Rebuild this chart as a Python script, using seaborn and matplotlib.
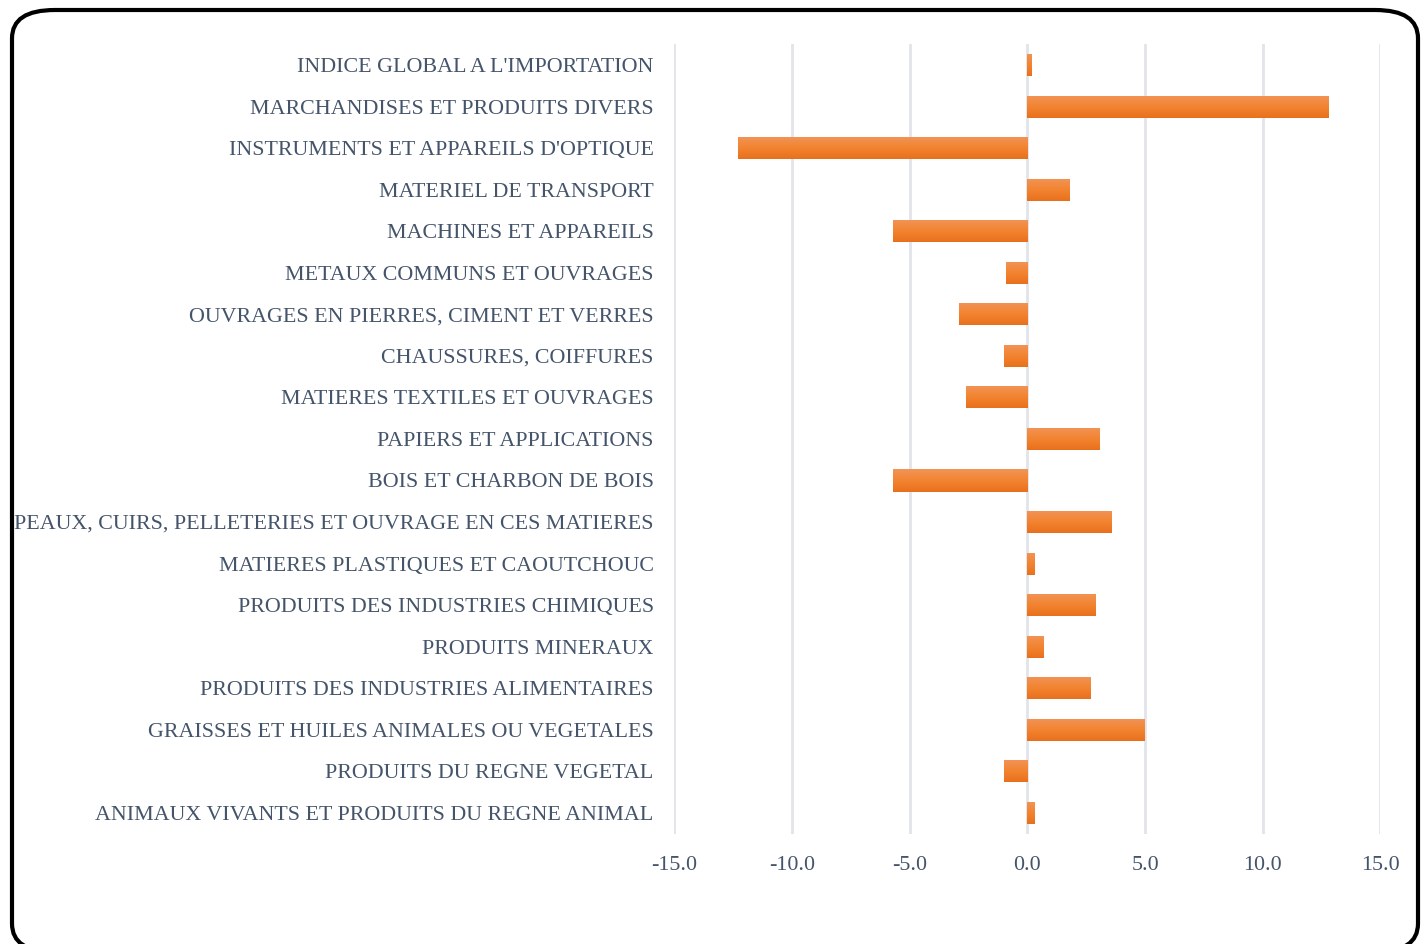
import numpy as np
import pandas as pd
import seaborn as sns
import matplotlib.pyplot as plt
from matplotlib.patches import FancyBboxPatch
from matplotlib.colors import LinearSegmentedColormap

# categories, top to bottom
categories = [
    "INDICE GLOBAL A L'IMPORTATION",
    "MARCHANDISES ET PRODUITS DIVERS",
    "INSTRUMENTS ET APPAREILS D'OPTIQUE",
    "MATERIEL DE TRANSPORT",
    "MACHINES ET APPAREILS",
    "METAUX COMMUNS ET OUVRAGES",
    "OUVRAGES EN PIERRES, CIMENT ET VERRES",
    "CHAUSSURES, COIFFURES",
    "MATIERES TEXTILES ET OUVRAGES",
    "PAPIERS ET APPLICATIONS",
    "BOIS ET CHARBON DE BOIS",
    "PEAUX, CUIRS, PELLETERIES ET OUVRAGE EN CES MATIERES",
    "MATIERES PLASTIQUES ET CAOUTCHOUC",
    "PRODUITS DES INDUSTRIES CHIMIQUES",
    "PRODUITS MINERAUX",
    "PRODUITS DES INDUSTRIES ALIMENTAIRES",
    "GRAISSES ET HUILES ANIMALES OU VEGETALES",
    "PRODUITS DU REGNE VEGETAL",
    "ANIMAUX VIVANTS ET PRODUITS DU REGNE ANIMAL",
]
values = [0.2, 12.8, -12.3, 1.8, -5.7, -0.9, -2.9, -1.0, -2.6, 3.1,
          -5.7, 3.6, 0.3, 2.9, 0.7, 2.7, 5.0, -1.0, 0.3]
xticks = [-15, -10, -5, 0, 5, 10, 15]

df = pd.DataFrame({"categorie": categories, "variation": values})

sns.set_style("white")
plt.rcParams['font.family'] = ['Liberation Serif', 'DejaVu Serif']
text_color = "#44546A"

fig = plt.figure(figsize=(14.26, 9.44), dpi=100)
ax = fig.add_axes([0.473, 0.117, 0.495, 0.836])

sns.barplot(data=df, y="categorie", x="variation", orient="h",
            color="#F07F2D", width=0.53, ax=ax, zorder=3)

# gradient fill on each bar (light top, darker bottom)
grad = LinearSegmentedColormap.from_list("og", ["#F19458", "#F38430", "#E8701D"])
gimg = np.linspace(0, 1, 64).reshape(-1, 1)
for p in ax.patches:
    x0, y0 = p.get_x(), p.get_y()
    w, h = p.get_width(), p.get_height()
    xa, xb = sorted([x0, x0 + w])
    ya, yb = sorted([y0, y0 + h])
    im = ax.imshow(gimg, cmap=grad, aspect="auto", extent=(xa, xb, yb, ya),
                   origin="upper", zorder=3)
    im.set_clip_path(p)
    p.set_facecolor("none")
    p.set_edgecolor("none")

ax.set_xlim(-15, 15)
ax.set_ylim(18.5, -0.5)
ax.set_xticks(xticks)
ax.set_xticklabels([f"{t:.1f}" for t in xticks])
ax.grid(axis="x", color="#E1E4EA", linewidth=2, zorder=0)
ax.grid(axis="y", visible=False)
for s in ax.spines.values():
    s.set_visible(False)
ax.set_xlabel("")
ax.set_ylabel("")
ax.tick_params(axis="both", length=0, labelsize=15.8, colors=text_color)
ax.tick_params(axis="y", pad=15)
ax.tick_params(axis="x", pad=16)
ax.set_aspect("auto")

# rounded frame around the chart (bottom runs off the picture)
frame = FancyBboxPatch((12 / 1426, -8 / 944), 1406 / 1426, 942 / 944,
                       boxstyle="round,pad=0,rounding_size=0.03",
                       transform=fig.transFigure, fill=False,
                       edgecolor="black", linewidth=3, clip_on=False)
fig.patches.append(frame)

fig.savefig("out.png", dpi=100)
